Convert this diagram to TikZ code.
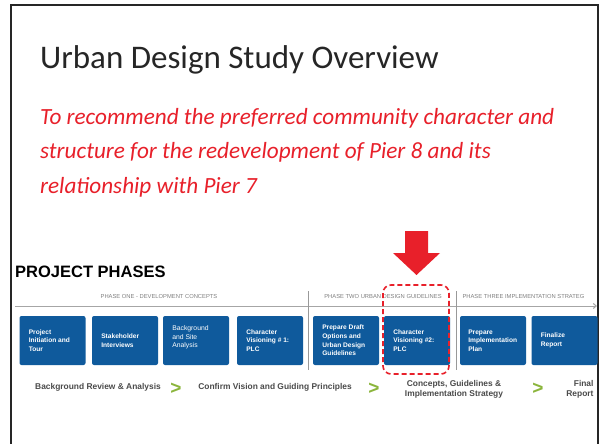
\documentclass[tikz,border=0pt]{standalone}
\usepackage{fontspec}
\setmainfont{Carlito}
\newfontfamily\arialfont{Liberation Sans}
\usetikzlibrary{positioning,arrows.meta}

\definecolor{slidered}{HTML}{E8202A}
\definecolor{phaseblue}{HTML}{0F5A9C}
\definecolor{stepgreen}{HTML}{8BB53C}
\definecolor{labelgray}{HTML}{4A4A4A}

\tikzset{
  phasebox/.style={fill=phaseblue, rounded corners=2pt, minimum width=66pt, minimum height=49pt,
    inner sep=0pt},
  boxtext/.style={text=white, font=\arialfont\bfseries\fontsize{6.6}{8.6}\selectfont,
    align=left, anchor=west},
  headtext/.style={text=gray, font=\arialfont\fontsize{5.8}{6}\selectfont},
  steptext/.style={text=labelgray, font=\arialfont\bfseries\fontsize{8.4}{9.4}\selectfont, align=center},
  chevron/.style={text=stepgreen, font=\arialfont\bfseries\fontsize{19}{19}\selectfont}
}

\begin{document}
\begin{tikzpicture}[x=1pt,y=-1pt]
\useasboundingbox (0,0) rectangle (600,444);
\fill[white] (0,0) rectangle (600,444);
% slide frame, open at the bottom
\draw[line width=2.6pt, black!85] (11,444) -- (11,5) -- (598,5) -- (598,444);

\node[anchor=base west, inner sep=0pt, font=\fontsize{33}{38}\selectfont, text=black!85] (title)
  at (40,69) {Urban Design Study Overview};
\node[anchor=north west, inner sep=0pt, align=left, text=slidered,
  font=\itshape\fontsize{23.2}{34.5}\selectfont] (goal) at (40,108)
  {To recommend the preferred community character and\\
   structure for the redevelopment of Pier 8 and its\\
   relationship with Pier 7};

\node[anchor=base west, inner sep=0pt, font=\arialfont\bfseries\fontsize{16.5}{18}\selectfont]
  (phases) at (15,277) {PROJECT PHASES};

% timeline
\coordinate (tlstart) at (15,306);
\coordinate (tlend) at (597,306);
\draw[gray!70, line width=1pt, -{Straight Barb[length=3pt,width=5pt]}] (tlstart) -- (tlend);
\node[headtext] (hone) at (159,297) {PHASE ONE - DEVELOPMENT CONCEPTS};
\node[headtext] (htwo) at (383,297) {PHASE TWO URBAN DESIGN GUIDELINES};
\node[headtext, anchor=west] (hthree) at (459,297) {PHASE THREE IMPLEMENTATION STRATEG};
\draw[gray!80, line width=0.8pt] (308,291) -- (308,370);
\draw[gray!80, line width=0.8pt] (456,291) -- (456,370);

% phase boxes
\node[phasebox] (binit) at (52.5,340.5) {};
\node[phasebox] (bstake) at (125,340.5) {};
\node[phasebox] (bsite) at (196,340.5) {};
\node[phasebox] (bvisone) at (270,340.5) {};
\node[phasebox] (bdraft) at (346,340.5) {};
\node[phasebox] (bvistwo) at (417,340.5) {};
\node[phasebox] (bplan) at (493,340.5) {};
\node[phasebox] (breport) at (564.5,340.5) {};

\node[boxtext] at ([xshift=6pt]binit.west) {Project\\Initiation and\\Tour};
\node[boxtext] at ([xshift=6pt]bstake.west) {Stakeholder\\Interviews};
\node[boxtext, font=\arialfont\fontsize{6.8}{8.6}\selectfont] at ([xshift=6pt,yshift=3pt]bsite.west) {Background\\and Site\\Analysis};
\node[boxtext] at ([xshift=6pt]bvisone.west) {Character\\Visioning \# 1:\\PLC};
\node[boxtext] at ([xshift=6pt]bdraft.west) {Prepare Draft\\Options and\\Urban Design\\Guidelines};
\node[boxtext] at ([xshift=6pt]bvistwo.west) {Character\\Visioning \#2:\\PLC};
\node[boxtext] at ([xshift=5pt]bplan.west) {Prepare\\Implementation\\Plan};
\node[boxtext] at ([xshift=6pt]breport.west) {Finalize\\Report};

% highlight of the current step
\draw[slidered, line width=1.6pt, dash pattern=on 5pt off 3pt, rounded corners=8pt]
  (383,285) rectangle (449,374);
\fill[slidered] (405,231) -- (428,231) -- (428,253) -- (440,253) -- (416.5,275)
  -- (393,253) -- (405,253) -- cycle;

% outcomes
\node[steptext] (sreview) at (98,387) {Background Review \& Analysis};
\node[chevron] (cone) at (176,389) {>};
\node[steptext] (svision) at (275,387) {Confirm Vision and Guiding Principles};
\node[chevron] (ctwo) at (374,389) {>};
\node[steptext] (sconcept) at (454,389.5) {Concepts, Guidelines \&\\Implementation Strategy};
\node[chevron] (cthree) at (538,389) {>};
\node[steptext, align=right, anchor=east] (sfinal) at (597,389.5) {Final\\Report};
\end{tikzpicture}
\end{document}
